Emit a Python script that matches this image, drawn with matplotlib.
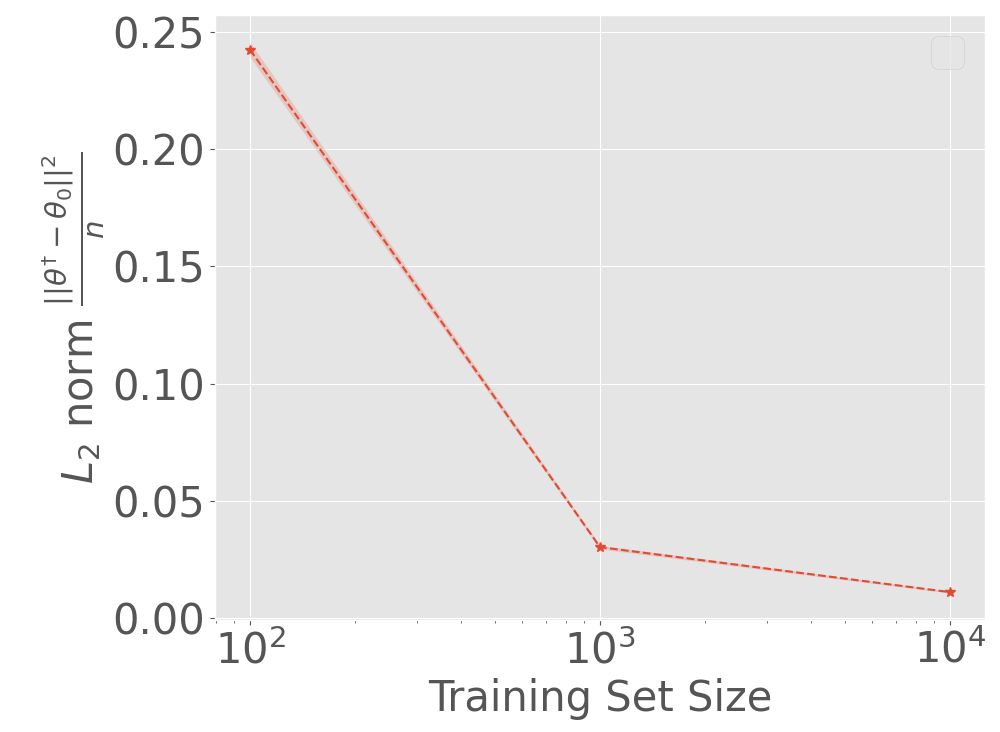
import matplotlib
matplotlib.use("Agg")
import matplotlib.pyplot as plt
import numpy as np

plt.style.use('ggplot')
plt.rcParams['font.size'] = 30

sizes = [100, 1000, 10000]
l2_mean = [0.2425, 0.0302, 0.0110]
l2_std = [0.0032, 0.0008, 0.0004]

fig, ax = plt.subplots(figsize=(10, 7.32), dpi=100)
fig.subplots_adjust(left=0.215, right=0.985, top=0.9795, bottom=0.153)

m = np.array(l2_mean)
s = np.array(l2_std)
ax.plot(sizes, l2_mean, linestyle='--', marker='*', color='#E24A33', markersize=7, linewidth=1.5)
ax.fill_between(sizes, m - s, m + s, color='#E24A33', alpha=0.2, linewidth=0)
ax.set_xscale('log')
ax.set_ylim(-0.0009, 0.2573)
ax.set_yticks([0.0, 0.05, 0.10, 0.15, 0.20, 0.25])
ax.set_yticklabels(['0.00', '0.05', '0.10', '0.15', '0.20', '0.25'])
ax.tick_params(labelsize=30)
ax.set_xlabel('Training Set Size', fontsize=30)
ax.set_ylabel(r'$L_2$ norm $\frac{||\theta^{\dagger} - \theta_0||^2}{n}$', fontsize=30)
ax.legend(handles=[], loc='upper right')

fig.savefig('out.png', dpi=100)
